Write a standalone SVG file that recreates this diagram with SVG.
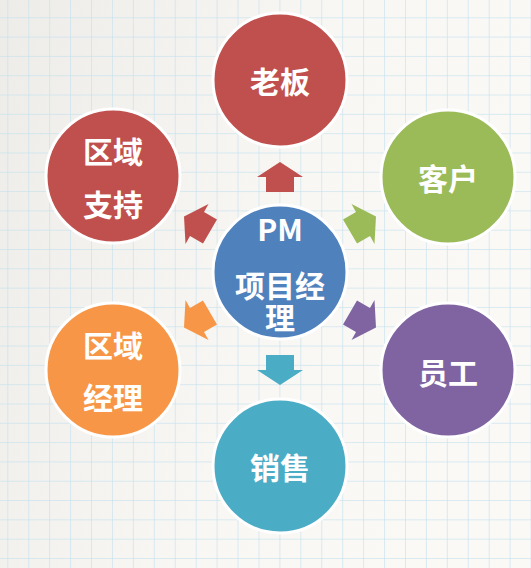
<svg xmlns="http://www.w3.org/2000/svg" width="531" height="568" viewBox="0 0 531 568">
  <defs>
    <linearGradient id="bg" x1="0" y1="0" x2="1" y2="0.3">
      <stop offset="0" stop-color="#EDECE8"/>
      <stop offset="0.6" stop-color="#F8F7F4"/>
      <stop offset="1" stop-color="#FAF9F6"/>
    </linearGradient>
    <pattern id="grid" patternUnits="userSpaceOnUse" x="7.3" y="17.3" width="20.93" height="19.31">
      <line x1="0" y1="0" x2="0" y2="19.31" stroke="#C3E0EE" stroke-width="1.2"/>
      <line x1="0" y1="0" x2="20.93" y2="0" stroke="#C3E0EE" stroke-width="1.2"/>
    </pattern>
    <path id="arrow" d="M0,-15 L23,0 L14,0 L14,15 L-14,15 L-14,0 L-23,0 Z"/>
  </defs>
  <style>
    .node { stroke: #FFFFFF; stroke-width: 3; }
    .t { fill: #FFFFFF; font-family: "Noto Sans CJK SC", "Noto Sans", sans-serif; font-weight: bold; font-size: 30px; text-anchor: middle; dominant-baseline: central; }
  </style>
  <rect width="531" height="568" fill="url(#bg)"/>
  <rect width="531" height="568" fill="url(#grid)"/>

  <g id="connectors">
    <use href="#arrow" fill="#C0504D" transform="translate(280,177)"/>
    <use href="#arrow" fill="#9BBB59" transform="translate(363,224) rotate(60)"/>
    <use href="#arrow" fill="#8064A2" transform="translate(363,320) rotate(120)"/>
    <use href="#arrow" fill="#4BACC6" transform="translate(280,370) rotate(180)"/>
    <use href="#arrow" fill="#F79646" transform="translate(197,320) rotate(-120)"/>
    <use href="#arrow" fill="#C0504D" transform="translate(197,224) rotate(-60)"/>
  </g>

  <g id="boss">
    <circle class="node" cx="280" cy="80" r="67" fill="#C0504D"/>
    <text class="t" x="280" y="80">老板</text>
  </g>
  <g id="customer">
    <circle class="node" cx="448" cy="177" r="67" fill="#9BBB59"/>
    <text class="t" x="448" y="177">客户</text>
  </g>
  <g id="staff">
    <circle class="node" cx="448" cy="370" r="67" fill="#8064A2"/>
    <text class="t" x="448" y="371">员工</text>
  </g>
  <g id="sales">
    <circle class="node" cx="280" cy="466" r="67" fill="#4BACC6"/>
    <text class="t" x="280" y="466">销售</text>
  </g>
  <g id="region-manager">
    <circle class="node" cx="113" cy="370" r="67" fill="#F79646"/>
    <text class="t" x="113" y="344">区域<tspan x="113" dy="52">经理</tspan></text>
  </g>
  <g id="region-support">
    <circle class="node" cx="113" cy="176" r="67" fill="#C0504D"/>
    <text class="t" x="113" y="150">区域<tspan x="113" dy="53">支持</tspan></text>
  </g>
  <g id="pm">
    <circle class="node" cx="280" cy="272" r="67" fill="#4F81BD"/>
    <text class="t" x="280" y="228">PM<tspan x="280" dy="56">项目经</tspan><tspan x="280" dy="32">理</tspan></text>
  </g>
</svg>
